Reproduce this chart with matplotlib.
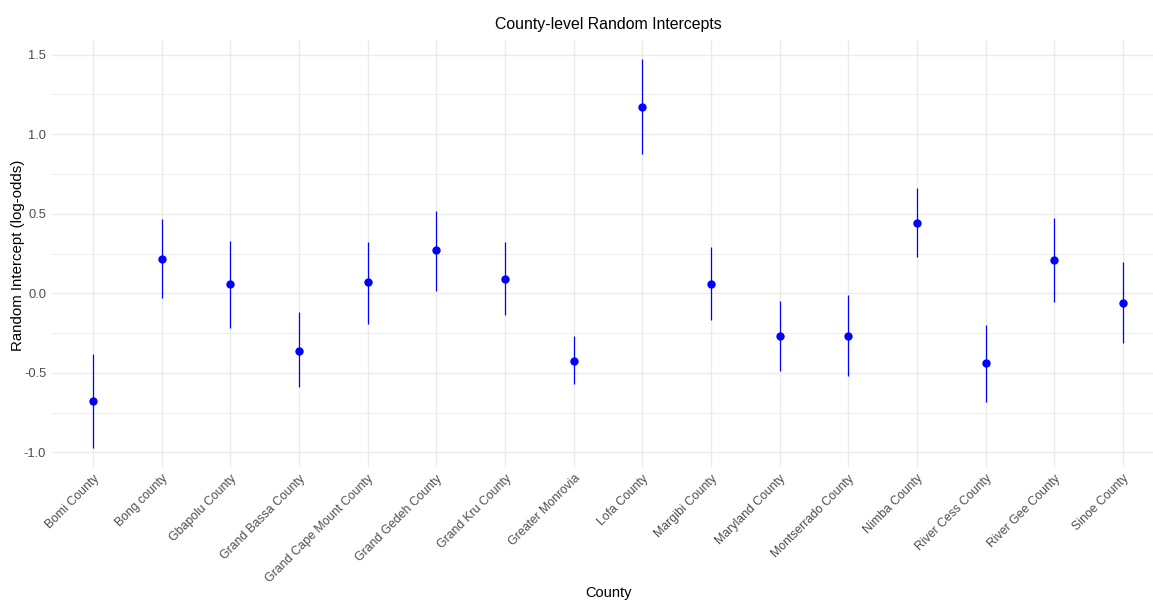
import numpy as np
import matplotlib.pyplot as plt
from matplotlib.ticker import MultipleLocator

plt.rcParams['font.family'] = ['Liberation Sans', 'DejaVu Sans']
plt.rcParams['axes.unicode_minus'] = False

counties = ['Bomi County', 'Bong county', 'Gbapolu County', 'Grand Bassa County',
            'Grand Cape Mount County', 'Grand Gedeh County', 'Grand Kru County',
            'Greater Monrovia', 'Lofa County', 'Margibi County', 'Maryland County',
            'Montserrado County', 'Nimba County', 'River Cess County',
            'River Gee County', 'Sinoe County']
estimate = [-0.68, 0.215, 0.06, -0.36, 0.07, 0.27, 0.09, -0.425, 1.17, 0.06,
            -0.27, -0.27, 0.44, -0.44, 0.21, -0.06]
lower = [-0.97, -0.03, -0.22, -0.59, -0.19, 0.015, -0.135, -0.57, 0.875, -0.17,
         -0.49, -0.52, 0.225, -0.685, -0.055, -0.31]
upper = [-0.38, 0.465, 0.33, -0.12, 0.325, 0.52, 0.32, -0.27, 1.47, 0.29,
         -0.05, -0.01, 0.66, -0.2, 0.475, 0.195]

W, H = 1153, 602
fig = plt.figure(figsize=(W / 100, H / 100), dpi=100)

# panel in pixel coords (right side runs past the image edge, as in the reference)
left_px, right_px, top_px, bot_px = 51.8, 1164.3, 40, 467
ax = fig.add_axes([left_px / W, 1 - bot_px / H,
                   (right_px - left_px) / W, (bot_px - top_px) / H])

x = np.arange(len(counties))
ax.vlines(x, lower, upper, color='#0000ff', lw=0.9, zorder=3)
ax.plot(x, estimate, 'o', color='#0000ff', ms=5, zorder=4)

ax.set_xlim(-0.6, len(counties) - 1 + 0.6)
ax.set_ylim(-1.092, 1.592)
ax.set_xticks(x)
ax.set_xticklabels(counties, rotation=45, ha='right', va='top',
                   rotation_mode='anchor', fontsize=8.8, color='#4d4d4d')
ax.yaxis.set_major_locator(MultipleLocator(0.5))
ax.yaxis.set_minor_locator(MultipleLocator(0.25))
ax.tick_params(axis='y', labelsize=9.3, labelcolor='#4d4d4d')
ax.tick_params(length=0, which='both', pad=4)

ax.grid(True, which='major', color='#ebebeb', lw=1.0)
ax.grid(True, which='minor', axis='y', color='#ebebeb', lw=0.6)
ax.set_axisbelow(True)
for s in ax.spines.values():
    s.set_visible(False)

fig.text(18 / W, 1 - 255 / H, 'Random Intercept (log-odds)', rotation=90,
         ha='center', va='center', fontsize=10.8)
fig.text(608 / W, 1 - 593 / H, 'County', ha='center', va='center', fontsize=10.5)
fig.text(608 / W, 1 - 24 / H, 'County-level Random Intercepts',
         ha='center', va='center', fontsize=11.4)

fig.savefig('out.png', dpi=100, facecolor='white')
